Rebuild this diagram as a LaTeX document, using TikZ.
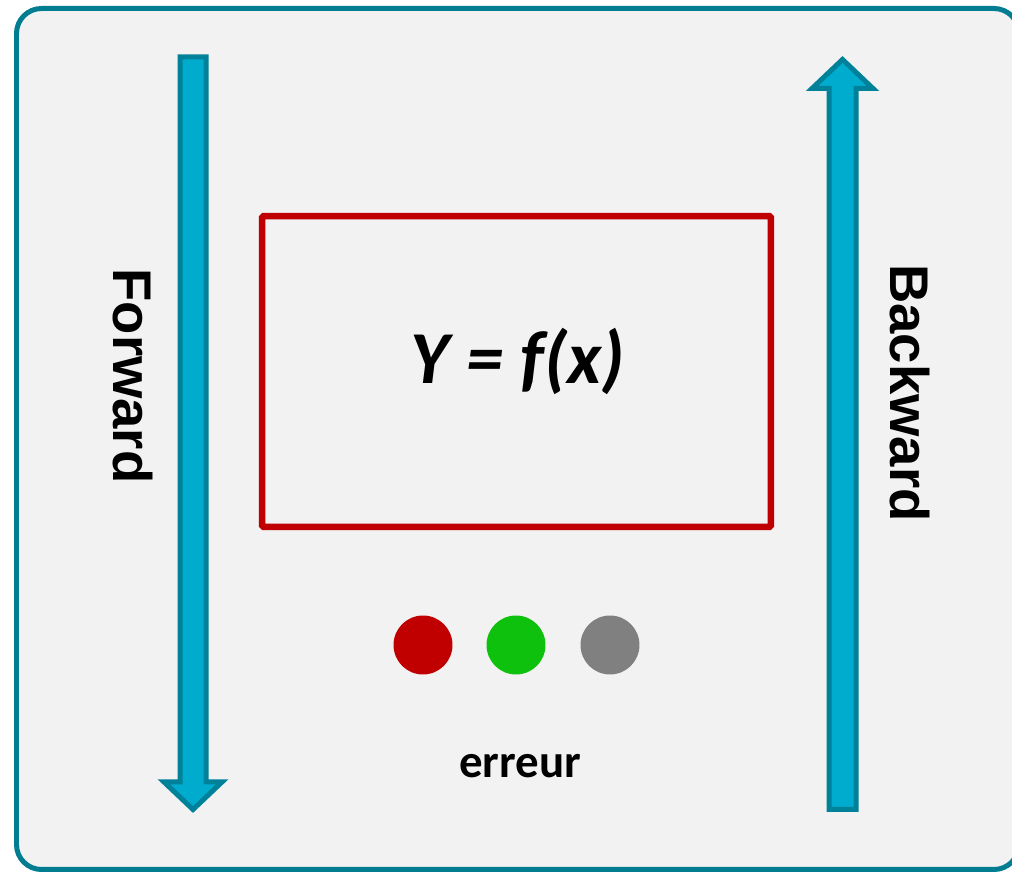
\documentclass[tikz,border=0pt]{standalone}
\usepackage{fontspec}
\usepackage{xcolor}
\usepackage{tikz}
\setmainfont{Carlito}
\newfontfamily\arialfont{Liberation Sans}

\definecolor{panelteal}{HTML}{007D91}
\definecolor{panelgray}{HTML}{F2F2F2}
\definecolor{arrowfill}{HTML}{00ACCD}
\definecolor{arrowline}{HTML}{00819A}
\definecolor{boxred}{HTML}{C00000}
\definecolor{dotgreen}{HTML}{0DC10D}
\definecolor{dotgray}{HTML}{808080}

\begin{document}
\begin{tikzpicture}[x=0.02cm, y=-0.02cm,
    panel/.style={draw=panelteal, fill=panelgray, line width=0.1cm, rounded corners=0.5cm},
    flow/.style={draw=arrowline, fill=arrowfill, line width=0.1cm, line join=miter},
    fbox/.style={draw=boxred, line width=0.13cm, rounded corners=1pt, minimum width=10.18cm, minimum height=6.22cm, inner sep=0pt},
    dot/.style={circle, minimum size=1.18cm, inner sep=0pt},
    side/.style={font=\arialfont\bfseries\fontsize{31}{36}\selectfont, rotate=-90, inner sep=0pt},
    eqtext/.style={font=\bfseries\itshape\fontsize{42.5}{50}\selectfont, inner sep=0pt},
    note/.style={font=\bfseries\fontsize{26.7}{32}\selectfont, inner sep=0pt}
  ]
    \useasboundingbox (0,0) rectangle (1012,874);
    \fill[white] (0,0) rectangle (1012,874);

    % Frame
    \draw[panel] (16.5,8.5) rectangle (1019,869.5);

    % Arrows
    \draw[flow] (180,57) -- (206,57) -- (206,782) -- (222,782) -- (193,809.5)
      -- (164,782) -- (180,782) -- cycle;
    \draw[flow] (829,809.5) -- (856,809.5) -- (856,88.5) -- (873,88.5) -- (842.5,59.5)
      -- (812,88.5) -- (829,88.5) -- cycle;

    % Nodes
    \node[side] (fwd) at (132.5,376) {Forward};
    \node[side] (bwd) at (910,393) {Backward};
    \node[fbox] (func) at (516.5,371.5) {};
    \node[eqtext, anchor=base] (eq) at (518,384) {Y = f(x)};

    % Dots
    \node[dot, fill=boxred] (d1) at (423,645) {};
    \node[dot, fill=dotgreen] (d2) at (516,645) {};
    \node[dot, fill=dotgray] (d3) at (610,645) {};
    \node[note, anchor=base] (err) at (520,778) {erreur};
  \end{tikzpicture}
\end{document}
